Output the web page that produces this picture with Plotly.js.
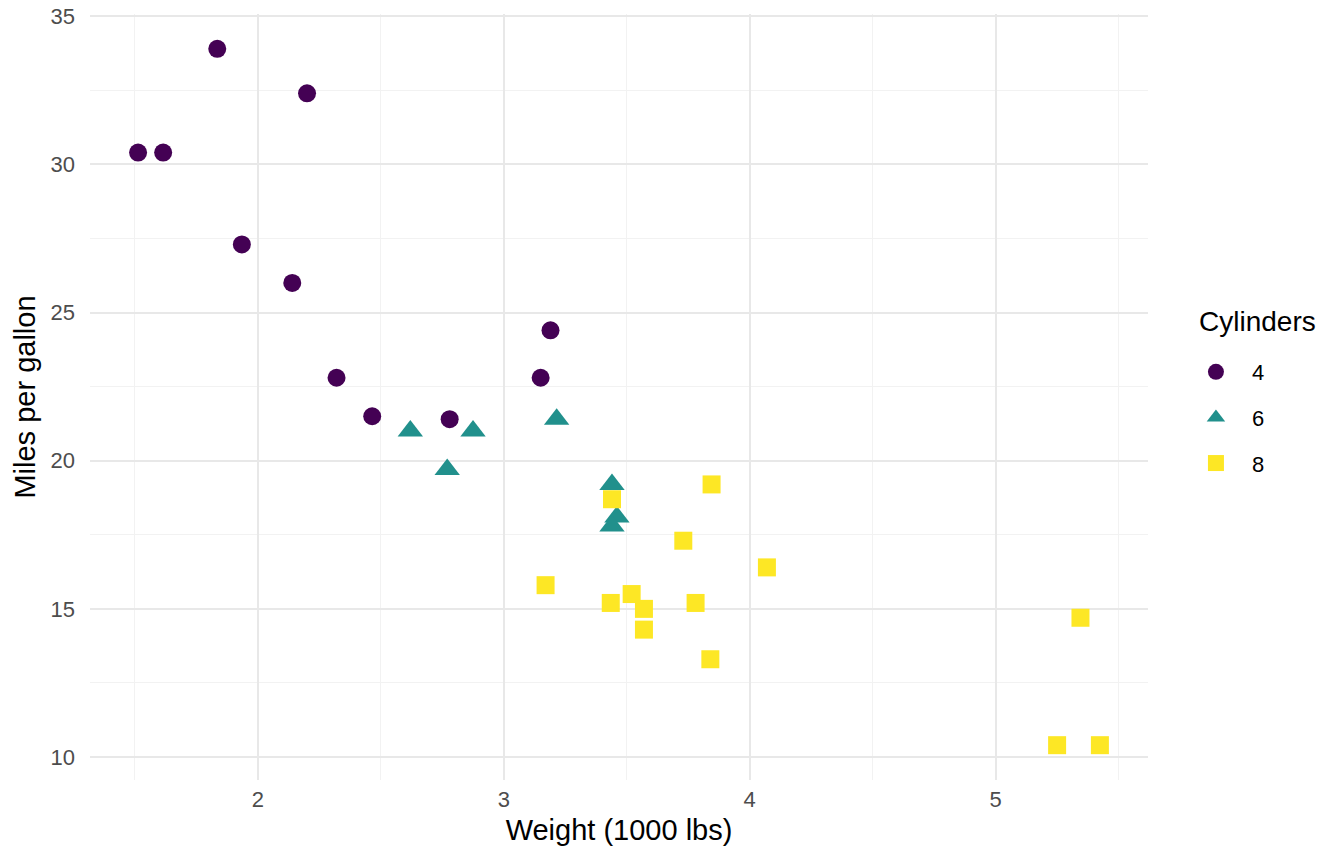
<!DOCTYPE html>
<html>
<head>
<meta charset="utf-8">
<script src="https://cdn.plot.ly/plotly-3.0.1.min.js"></script>
<style>html,body{margin:0;padding:0;background:#fff;}#chart{width:1344px;height:864px;}</style>
</head>
<body>
<div id="chart"></div>
<script>
// Car weight (1000 lbs) and fuel economy, grouped by cylinder count
const wt4 = [2.320, 3.190, 3.150, 2.200, 1.615, 1.835, 2.465, 1.935, 2.140, 1.513, 2.780];
const mpg4 = [22.8, 24.4, 22.8, 32.4, 30.4, 33.9, 21.5, 27.3, 26.0, 30.4, 21.4];
const wt6 = [2.620, 2.875, 3.215, 3.460, 3.440, 3.440, 2.770];
const mpg6 = [21.0, 21.0, 21.4, 18.1, 19.2, 17.8, 19.7];
const wt8 = [3.440, 3.570, 4.070, 3.730, 3.780, 5.250, 5.424, 5.345, 3.520, 3.435, 3.840, 3.845, 3.170, 3.570];
const mpg8 = [18.7, 14.3, 16.4, 17.3, 15.2, 10.4, 10.4, 14.7, 15.5, 15.2, 13.3, 19.2, 15.8, 15.0];
const groupNames = ['4', '6', '8'];
const xTicks = [2, 3, 4, 5];
const yTicks = [10, 15, 20, 25, 30, 35];

const colors = ['#440154', '#21908C', '#FDE725'];
const symbols = ['circle', 'triangle-up', 'square'];
const sizes = [18, 22, 18];
const xs = [wt4, wt6, wt8];
const ys = [mpg4, mpg6, mpg8];

const traces = groupNames.map((name, i) => ({
  type: 'scatter',
  mode: 'markers',
  name: name,
  legendgroup: 'g' + name,
  x: xs[i],
  y: ys[i],
  marker: {
    color: colors[i],
    symbol: symbols[i],
    size: sizes[i],
    line: {width: 0}
  },
  hoverinfo: 'x+y+name'
}));

const gridMajor = '#e8e8e8';
const gridMinor = '#f2f2f2';

const layout = {
  width: 1344,
  height: 864,
  paper_bgcolor: '#ffffff',
  plot_bgcolor: '#ffffff',
  font: {family: 'Liberation Sans, Arial, sans-serif', color: '#000000'},
  margin: {l: 90, r: 196, t: 14, b: 84},
  xaxis: {
    range: [1.3175, 5.6196],
    tickvals: xTicks,
    ticktext: xTicks.map(String),
    showline: false,
    zeroline: false,
    ticks: '',
    ticklabelstandoff: 4,
    tickfont: {size: 22, color: '#4d4d4d'},
    gridcolor: gridMajor,
    gridwidth: 2,
    minor: {dtick: 0.5, tick0: 1.5, showgrid: true, gridcolor: gridMinor, gridwidth: 1},
    title: {text: 'Weight (1000 lbs)', font: {size: 29, color: '#000000'}, standoff: 8}
  },
  yaxis: {
    range: [9.225, 35.075],
    tickvals: yTicks,
    ticktext: yTicks.map(String),
    showline: false,
    zeroline: false,
    ticks: '',
    ticklabelstandoff: 14,
    tickfont: {size: 22, color: '#4d4d4d'},
    gridcolor: gridMajor,
    gridwidth: 2,
    minor: {dtick: 2.5, tick0: 7.5, showgrid: true, gridcolor: gridMinor, gridwidth: 1},
    title: {text: 'Miles per gallon', font: {size: 29, color: '#000000'}, standoff: 6}
  },
  showlegend: true,
  legend: {
    x: 1.0302,
    xanchor: 'left',
    y: 0.56,
    yanchor: 'top',
    traceorder: 'grouped',
    tracegroupgap: 14,
    itemwidth: 62,
    bgcolor: 'rgba(0,0,0,0)',
    font: {size: 22, color: '#000000'},
    itemsizing: 'trace'
  },
  annotations: [{
    text: 'Cylinders',
    xref: 'paper', yref: 'paper',
    x: 1.0463, y: 0.598,
    xanchor: 'left', yanchor: 'middle',
    showarrow: false,
    font: {size: 28, color: '#000000'}
  }]
};

Plotly.newPlot('chart', traces, layout, {displayModeBar: false, staticPlot: true});
</script>
</body>
</html>
